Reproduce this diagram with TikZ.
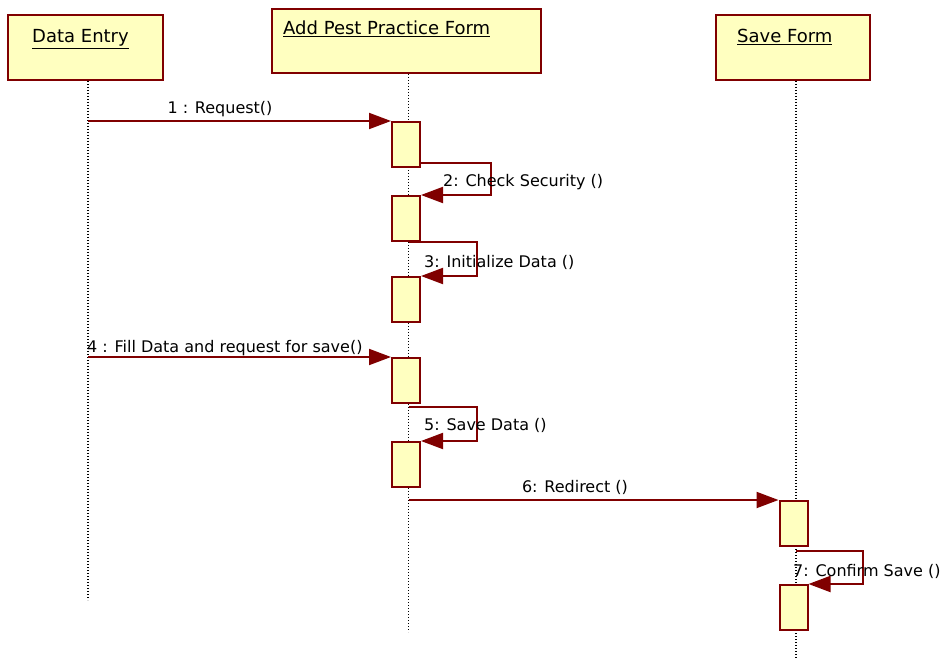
\documentclass[tikz,border=0pt]{standalone}
\usepackage{fontspec}
\setmainfont{DejaVu Sans}
\usetikzlibrary{arrows.meta}
\definecolor{umlred}{HTML}{800000}
\definecolor{umlfill}{HTML}{FFFFC0}

\begin{document}
\begin{tikzpicture}[x=1pt,y=-1pt,
    head/.style={draw=umlred,line width=2pt,fill=umlfill,inner sep=0pt},
    act/.style={draw=umlred,line width=2pt,fill=umlfill,inner sep=0pt,
                minimum width=28,minimum height=45},
    life/.style={line width=1.3pt,dash pattern=on 1.3pt off 1.7pt},
    msg/.style={draw=umlred,line width=2pt,-{Triangle[length=22pt,width=16pt]}},
    lbl/.style={anchor=base west,inner sep=0pt,font=\fontsize{16}{19}\selectfont},
    ttl/.style={anchor=base west,inner sep=0pt,font=\fontsize{18}{21}\selectfont}]
    \useasboundingbox (0,0) rectangle (942,660);
    %objects
    \node [head,minimum width=155,minimum height=65] (de) at (85.5,47.5) {};
    \node [ttl] (de-t) at (32,43) {\underline{Data Entry}};
    \node [head,minimum width=269,minimum height=64] (apf) at (406.5,41) {};
    \node [ttl] (apf-t) at (283,35) {\underline{Add Pest Practice Form}};
    \node [head,minimum width=154,minimum height=65] (sf) at (793,47.5) {};
    \node [ttl] (sf-t) at (737,43) {\underline{Save Form}};
    %lifelines
    \coordinate (de-top) at ([xshift=2.5]de.south);
    \coordinate (apf-top) at ([xshift=2]apf.south);
    \coordinate (sf-top) at ([xshift=3]sf.south);
    \coordinate (de-end) at (88,600);
    \coordinate (apf-end) at (408.5,632);
    \coordinate (sf-end) at (796,660);
    \draw [life] (de-top) -- (de-end);
    \draw [life] (apf-top) -- (apf-end);
    \draw [life] (sf-top) -- (sf-end);
    %activations
    \node [act] (a1) at (406,144.5) {};
    \node [act] (a2) at (406,218.5) {};
    \node [act] (a3) at (406,299.5) {};
    \node [act] (a4) at (406,380.5) {};
    \node [act] (a5) at (406,464.5) {};
    \node [act] (a6) at (793.5,523.5) {};
    \node [act] (a7) at (793.5,607.5) {};
    %messages
    \draw [msg] (de-top |- a1.north) -- (a1.north west);
    \node [lbl,anchor=base] (l1) at (220,114) {1 : Request()};
    \draw [msg] ([yshift=5]a1.south east) -- ++(70,0) |- (a2.north east);
    \node [lbl] (l2) at (443,187) {2: Check Security ()};
    \draw [msg] (apf-top |- a2.south) -- ++(68,0) |- (a3.north east);
    \node [lbl] (l3) at (424,268) {3: Initialize Data ()};
    \draw [msg] (de-top |- a4.north) -- (a4.north west);
    \node [lbl] (l4) at (87,352) {4 : Fill Data and request for save()};
    \draw [msg] (apf-top |- 0,407) -- ++(68,0) |- (a5.north east);
    \node [lbl] (l5) at (424,430) {5: Save Data ()};
    \draw [msg] (apf-top |- a6.north) -- (a6.north west);
    \node [lbl,anchor=base] (l6) at (575,492) {6: Redirect ()};
    \draw [msg] (sf-top |- 0,551) -- ++(67,0) |- (a7.north east);
    \node [lbl] (l7) at (793,576) {7: Confirm Save ()};
\end{tikzpicture}
\end{document}
